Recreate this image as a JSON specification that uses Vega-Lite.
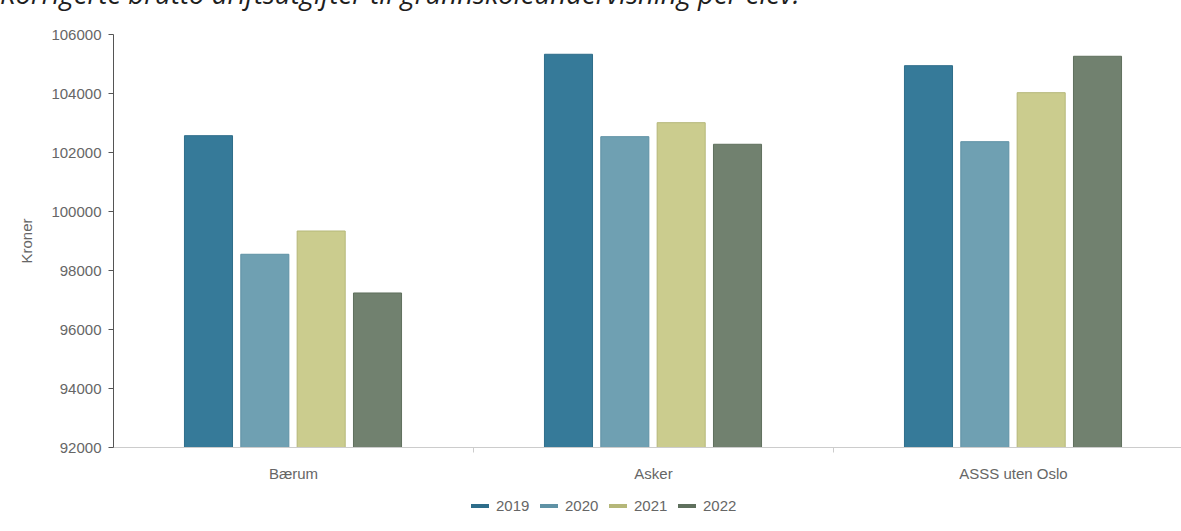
{
  "$schema": "https://vega.github.io/schema/vega-lite/v6.json",
  "autosize": "none",
  "width": 1068,
  "height": 413,
  "padding": {"left": 113, "top": 34, "right": 0, "bottom": 84},
  "background": "white",
  "title": {
    "text": "Korrigerte brutto driftsutgifter til grunnskoleundervisning per elev.",
    "anchor": "start",
    "frame": "group",
    "orient": "top",
    "font": "Open Sans",
    "fontStyle": "italic",
    "fontWeight": "normal",
    "fontSize": 27.5,
    "color": "#1e1e1e",
    "baseline": "alphabetic",
    "offset": 16,
    "dx": -113,
    "dy": 20
  },
  "config": {
    "view": {"stroke": null},
    "font": "Liberation Sans"
  },
  "data": {
    "values": [
      {"omrade": "Bærum", "ar": "2019", "kroner": 102553},
      {"omrade": "Bærum", "ar": "2020", "kroner": 98533},
      {"omrade": "Bærum", "ar": "2021", "kroner": 99322},
      {"omrade": "Bærum", "ar": "2022", "kroner": 97221},
      {"omrade": "Asker", "ar": "2019", "kroner": 105313},
      {"omrade": "Asker", "ar": "2020", "kroner": 102520},
      {"omrade": "Asker", "ar": "2021", "kroner": 102994},
      {"omrade": "Asker", "ar": "2022", "kroner": 102262},
      {"omrade": "ASSS uten Oslo", "ar": "2019", "kroner": 104926},
      {"omrade": "ASSS uten Oslo", "ar": "2020", "kroner": 102350},
      {"omrade": "ASSS uten Oslo", "ar": "2021", "kroner": 104011},
      {"omrade": "ASSS uten Oslo", "ar": "2022", "kroner": 105245}
    ]
  },
  "mark": {"type": "bar", "strokeWidth": 1, "clip": true},
  "encoding": {
    "x": {
      "field": "omrade",
      "type": "nominal",
      "sort": null,
      "scale": {"range": [0, 1080], "paddingInner": 0.397, "paddingOuter": 0.1985},
      "axis": {
        "title": null,
        "labelAngle": 0,
        "labelFontSize": 15,
        "labelColor": "#666666",
        "labelPadding": 14,
        "domainColor": "#cccccc",
        "domainWidth": 1,
        "tickColor": "#cccccc",
        "tickSize": 5,
        "tickOffset": 180,
        "labelOffset": -180,
        "grid": false
      }
    },
    "xOffset": {
      "field": "ar",
      "type": "nominal",
      "scale": {"paddingInner": 0.147, "paddingOuter": 0}
    },
    "y": {
      "field": "kroner",
      "type": "quantitative",
      "scale": {"domain": [92000, 106000], "nice": false, "zero": false},
      "axis": {
        "title": "Kroner",
        "titleFontSize": 15,
        "titleFontWeight": "normal",
        "titleColor": "#666666",
        "titlePadding": 16,
        "values": [92000, 94000, 96000, 98000, 100000, 102000, 104000, 106000],
        "format": "d",
        "labelFontSize": 15,
        "labelColor": "#666666",
        "labelPadding": 7,
        "domainColor": "#555555",
        "tickColor": "#555555",
        "tickSize": 5,
        "grid": false
      }
    },
    "color": {
      "field": "ar",
      "type": "nominal",
      "scale": {"domain": ["2019", "2020", "2021", "2022"], "range": ["#367a99", "#6fa0b2", "#cbcc8e", "#71816f"]},
      "legend": {
        "title": null,
        "orient": "none",
        "direction": "horizontal",
        "legendX": 356,
        "legendY": 461,
        "symbolType": "stroke",
        "symbolSize": 324,
        "symbolStrokeWidth": 4,
        "labelFontSize": 15,
        "labelColor": "#666666",
        "labelOffset": 5,
        "columnPadding": 2
      }
    },
    "stroke": {
      "field": "ar",
      "type": "nominal",
      "scale": {"domain": ["2019", "2020", "2021", "2022"], "range": ["#2e6d8a", "#5f92a5", "#b5b779", "#5f705d"]},
      "legend": null
    }
  }
}
